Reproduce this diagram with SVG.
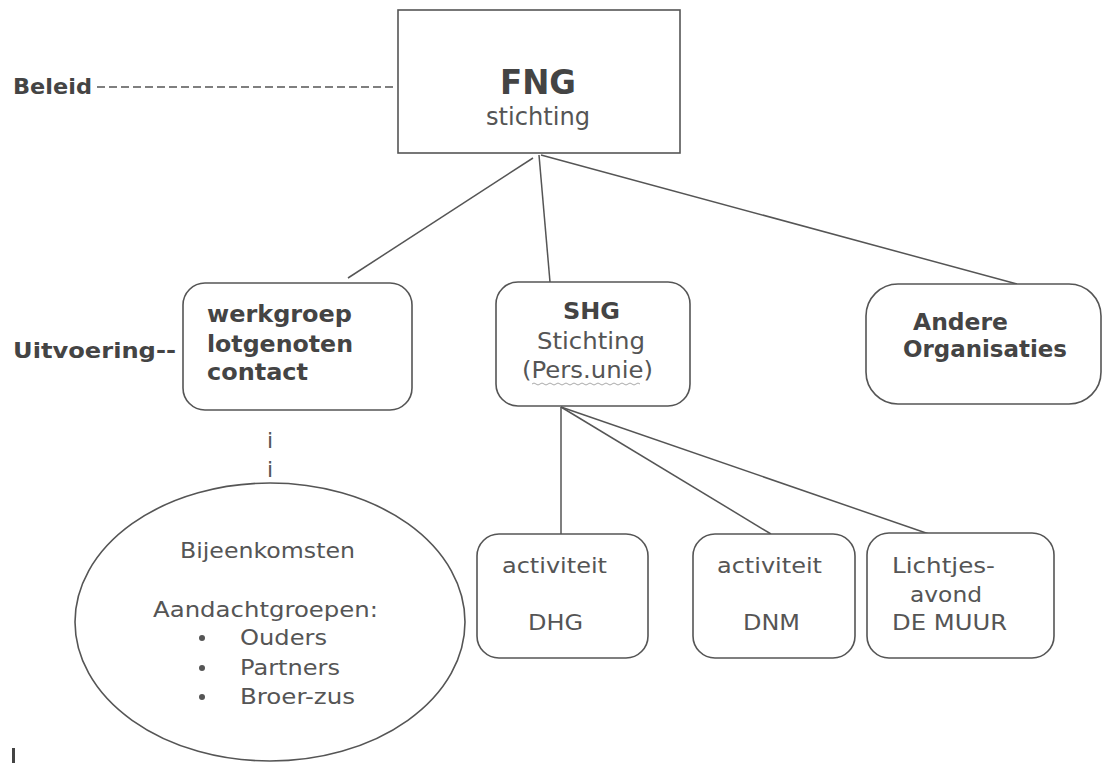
<svg xmlns="http://www.w3.org/2000/svg" width="1102" height="763" viewBox="0 0 1102 763">
<style>
.box{fill:#fff;stroke:#555;stroke-width:1.6}
.ln{stroke:#555;stroke-width:1.5;fill:none}
.b{font-family:"DejaVu Sans",Verdana,sans-serif;font-weight:bold;fill:#444}
.r{font-family:"DejaVu Sans",Verdana,sans-serif;fill:#555}
</style>
<rect width="1102" height="763" fill="#fff"/>
<g id="connectors">
<line class="ln" x1="97" y1="87" x2="397" y2="87" stroke-dasharray="8 4"/>
<line class="ln" x1="533" y1="158" x2="348" y2="278"/>
<line class="ln" x1="539" y1="155" x2="550" y2="282"/>
<line class="ln" x1="541" y1="155" x2="1017" y2="284"/>
<line class="ln" x1="561" y1="407" x2="561" y2="534"/>
<line class="ln" x1="561" y1="407" x2="771" y2="534"/>
<line class="ln" x1="561" y1="407" x2="929" y2="534"/>
</g>
<g id="beleid">
<text class="b" x="13" y="94" font-size="22" textLength="79" lengthAdjust="spacingAndGlyphs">Beleid</text>
</g>
<g id="uitvoering">
<text class="b" x="13" y="358" font-size="22" textLength="163" lengthAdjust="spacingAndGlyphs">Uitvoering--</text>
</g>
<g id="fng">
<rect class="box" x="398" y="10" width="282" height="143"/>
<text class="b" x="500" y="94" font-size="34" textLength="76" lengthAdjust="spacingAndGlyphs">FNG</text>
<text class="r" x="486" y="125" font-size="24" textLength="104" lengthAdjust="spacingAndGlyphs">stichting</text>
</g>
<g id="werkgroep">
<rect class="box" x="183" y="283" width="229" height="127" rx="22"/>
<text class="b" x="207" y="322" font-size="23" textLength="145" lengthAdjust="spacingAndGlyphs">werkgroep</text>
<text class="b" x="207" y="352" font-size="23" textLength="146" lengthAdjust="spacingAndGlyphs">lotgenoten</text>
<text class="b" x="207" y="380" font-size="23" textLength="101" lengthAdjust="spacingAndGlyphs">contact</text>
</g>
<g id="shg">
<rect class="box" x="496" y="282" width="194" height="124" rx="22"/>
<text class="b" x="563" y="319" font-size="23" textLength="57" lengthAdjust="spacingAndGlyphs">SHG</text>
<text class="r" x="537" y="349" font-size="23" textLength="108" lengthAdjust="spacingAndGlyphs">Stichting</text>
<text class="r" x="522" y="378" font-size="23" textLength="131" lengthAdjust="spacingAndGlyphs">(Pers.unie)</text>
<path d="M532 384 q2 -2 4 0 t4 0 t4 0 t4 0 t4 0 t4 0 t4 0 t4 0 t4 0 t4 0 t4 0 t4 0 t4 0 t4 0 t4 0 t4 0 t4 0 t4 0 t4 0 t4 0 t4 0 t4 0 t4 0 t4 0 t4 0 t4 0 t4 0" fill="none" stroke="#aaa" stroke-width="1"/>
</g>
<g id="andere">
<rect class="box" x="866" y="284" width="235" height="120" rx="32"/>
<text class="b" x="913" y="330" font-size="23" textLength="95" lengthAdjust="spacingAndGlyphs">Andere</text>
<text class="b" x="903" y="357" font-size="23" textLength="164" lengthAdjust="spacingAndGlyphs">Organisaties</text>
</g>
<g id="link-i">
<text class="r" x="267" y="448" font-size="22">i</text>
<text class="r" x="267" y="477" font-size="22">i</text>
</g>
<g id="bijeenkomsten">
<ellipse class="box" cx="270" cy="622" rx="195" ry="139" stroke-width="1.2"/>
<text class="r" x="180" y="558" font-size="22" textLength="175" lengthAdjust="spacingAndGlyphs">Bijeenkomsten</text>
<text class="r" x="153" y="617" font-size="22" textLength="225" lengthAdjust="spacingAndGlyphs">Aandachtgroepen:</text>
<circle cx="202" cy="638" r="3" fill="#555"/>
<circle cx="202" cy="668" r="3" fill="#555"/>
<circle cx="202" cy="697" r="3" fill="#555"/>
<text class="r" x="240" y="645" font-size="22" textLength="87" lengthAdjust="spacingAndGlyphs">Ouders</text>
<text class="r" x="240" y="675" font-size="22" textLength="100" lengthAdjust="spacingAndGlyphs">Partners</text>
<text class="r" x="240" y="704" font-size="22" textLength="115" lengthAdjust="spacingAndGlyphs">Broer-zus</text>
</g>
<g id="dhg">
<rect class="box" x="477" y="534" width="171" height="124" rx="22"/>
<text class="r" x="502" y="573" font-size="22" textLength="105" lengthAdjust="spacingAndGlyphs">activiteit</text>
<text class="r" x="528" y="630" font-size="22" textLength="55" lengthAdjust="spacingAndGlyphs">DHG</text>
</g>
<g id="dnm">
<rect class="box" x="693" y="534" width="162" height="124" rx="22"/>
<text class="r" x="717" y="573" font-size="22" textLength="105" lengthAdjust="spacingAndGlyphs">activiteit</text>
<text class="r" x="743" y="630" font-size="22" textLength="57" lengthAdjust="spacingAndGlyphs">DNM</text>
</g>
<g id="lichtjes">
<rect class="box" x="867" y="533" width="187" height="125" rx="22"/>
<text class="r" x="892" y="573" font-size="22" textLength="103" lengthAdjust="spacingAndGlyphs">Lichtjes-</text>
<text class="r" x="910" y="602" font-size="22" textLength="72" lengthAdjust="spacingAndGlyphs">avond</text>
<text class="r" x="892" y="630" font-size="22" textLength="115" lengthAdjust="spacingAndGlyphs">DE MUUR</text>
</g>
<rect x="12" y="748" width="3" height="15" fill="#444"/>
</svg>
